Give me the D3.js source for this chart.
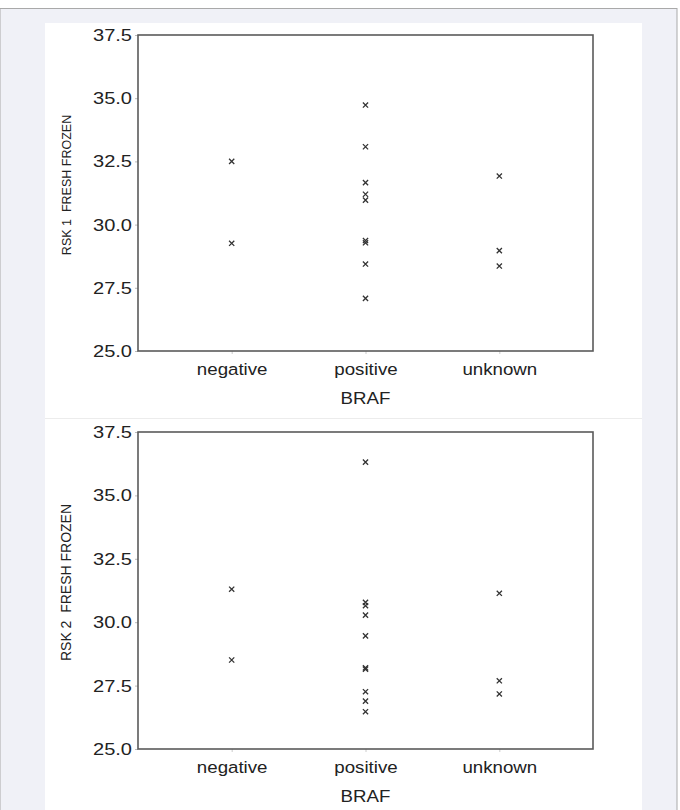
<!DOCTYPE html>
<html lang="en">
<head>
<meta charset="UTF-8">
<title>RSK fresh frozen by BRAF</title>
<style>
	html, body { margin: 0; padding: 0; background: #ffffff; }
	svg { display: block; }
	text { font-family: "Liberation Sans", Arial, sans-serif; fill: #222; }
</style>
</head>
<body>
<script src="https://cdn.jsdelivr.net/npm/d3@7"></script>
<script>
	// categories and tick labels
	var categories = ["negative", "positive", "unknown"];
	var yTicks = [25, 27.5, 30, 32.5, 35, 37.5];
	var xTitle = "BRAF";

	// RSK 1 values
	var rsk1Negative = [32.5, 29.26];
	var rsk1Positive = [34.73, 33.08, 31.66, 31.2, 30.97, 29.37, 29.28, 28.44, 27.08];
	var rsk1Unknown = [31.92, 28.97, 28.36];

	// RSK 2 values
	var rsk2Negative = [31.3, 28.51];
	var rsk2Positive = [36.31, 30.78, 30.65, 30.28, 29.46, 28.2, 28.15, 27.26, 26.89, 26.47];
	var rsk2Unknown = [31.14, 27.69, 27.17];

	var width = 680,
		height = 810;

	var svg = d3.select("body").append("svg")
		.attr("width", width)
		.attr("height", height);

	// page frame
	svg.append("rect")
		.attr("x", 0).attr("y", 8.5)
		.attr("width", 677).attr("height", height)
		.attr("fill", "#f0f1f7")
		.attr("stroke", "#a9a9a9")
		.attr("stroke-width", 1);
	svg.append("rect")
		.attr("x", 45).attr("y", 23)
		.attr("width", 597).attr("height", height - 23)
		.attr("fill", "#ffffff");
	svg.append("line")
		.attr("x1", 45).attr("x2", 642)
		.attr("y1", 418.5).attr("y2", 418.5)
		.attr("stroke", "#ececec");

	var stretch = 1.18;

	function panel(top, bottom, title, titleSize, groups) {
		var left = 138, right = 593;

		var x = d3.scalePoint()
			.domain(categories)
			.range([left, right])
			.padding(0.7);
		var y = d3.scaleLinear()
			.domain([25, 37.5])
			.range([bottom, top]);

		var g = svg.append("g");

		// y axis
		var yAxis = d3.axisLeft(y)
			.tickValues(yTicks)
			.tickFormat(d3.format(".1f"))
			.tickSize(3)
			.tickPadding(3);
		var ya = g.append("g")
			.attr("transform", "translate(" + left + ",0)")
			.call(yAxis);
		ya.select(".domain").remove();
		ya.selectAll("line").attr("stroke", "#bbb");
		ya.selectAll("text")
			.attr("font-size", 17)
			.attr("fill", "#222")
			.attr("x", -6 / stretch)
			.attr("transform", "scale(" + stretch + ",1)");

		// x axis
		var xAxis = d3.axisBottom(x)
			.tickSize(3)
			.tickPadding(9);
		var xa = g.append("g")
			.attr("transform", "translate(0," + bottom + ")")
			.call(xAxis);
		xa.select(".domain").remove();
		xa.selectAll("line").attr("stroke", "#ccc");
		xa.selectAll("text")
			.attr("font-size", 17)
			.attr("fill", "#222")
			.attr("transform", "scale(" + 1.1 + ",1)");

		// frame of the plot
		g.append("rect")
			.attr("x", left).attr("y", top)
			.attr("width", right - left).attr("height", bottom - top)
			.attr("fill", "none")
			.attr("stroke", "#5a5a5a")
			.attr("stroke-width", 1.6);

		// axis titles
		g.append("text")
			.attr("transform", "translate(" + (x("positive")) + "," + (bottom + 53) + ") scale(1.1,1)")
			.attr("text-anchor", "middle")
			.attr("font-size", 17)
			.text(xTitle);

		g.append("text")
			.attr("transform", "translate(71," + ((top + bottom) / 2 - 8) + ") rotate(-90)")
			.attr("text-anchor", "middle")
			.attr("font-size", titleSize)
			.attr("xml:space", "preserve")
			.style("white-space", "pre")
			.text(title);

		// points as x markers
		var pts = [];
		groups.forEach(function(vals, i) {
			vals.forEach(function(v) { pts.push({cat: categories[i], v: v}); });
		});
		var s = 2.6;
		g.selectAll("path.pt")
			.data(pts)
			.enter()
			.append("path")
			.attr("class", "pt")
			.attr("d", function(d) {
				var cx = x(d.cat), cy = y(d.v);
				return "M" + (cx - s) + "," + (cy - s) + "L" + (cx + s) + "," + (cy + s) +
					"M" + (cx - s) + "," + (cy + s) + "L" + (cx + s) + "," + (cy - s);
			})
			.attr("stroke", "#333")
			.attr("stroke-width", 1.3)
			.attr("fill", "none");
	}

	panel(35, 351, "RSK 1  FRESH FROZEN", 12.5, [rsk1Negative, rsk1Positive, rsk1Unknown]);
	panel(432, 749, "RSK 2  FRESH FROZEN", 14, [rsk2Negative, rsk2Positive, rsk2Unknown]);
</script>
</body>
</html>
